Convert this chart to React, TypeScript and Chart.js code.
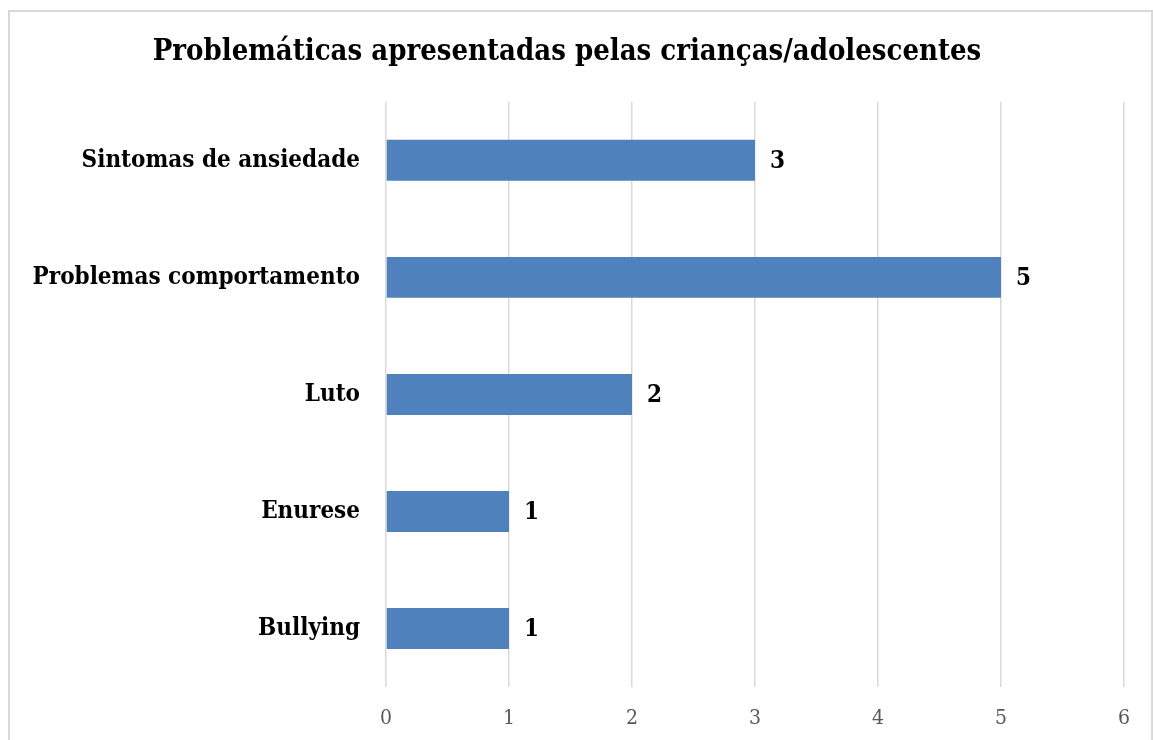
import React, { useEffect, useRef } from "react";
import { Chart, registerables } from "chart.js";

Chart.register(...registerables);

const titleText = "Problemáticas apresentadas pelas crianças/adolescentes";
const categories = [
  "Sintomas de ansiedade",
  "Problemas comportamento",
  "Luto",
  "Enurese",
  "Bullying",
];
const values = [3, 5, 2, 1, 1];
const xMin = 0;
const xMax = 6;

const FONT = "'DejaVu Serif Condensed', 'Liberation Serif', serif";

const valueLabels = {
  id: "valueLabels",
  afterDatasetsDraw(chart: any) {
    const ctx = chart.ctx;
    const meta = chart.getDatasetMeta(0);
    ctx.save();
    ctx.font = `bold 24px ${FONT}`;
    ctx.fillStyle = "#000000";
    ctx.textAlign = "left";
    ctx.textBaseline = "middle";
    meta.data.forEach((bar: any, i: number) => {
      ctx.fillText(String(values[i]), bar.x + 15, bar.y + 1);
    });
    ctx.restore();
  },
};

export default function App() {
  const ref = useRef<HTMLCanvasElement | null>(null);
  useEffect(() => {
    if (!ref.current) return;
    const chart = new Chart(ref.current, {
      type: "bar",
      data: {
        labels: categories,
        datasets: [
          {
            data: values,
            backgroundColor: "#4f81bd",
            borderWidth: 0,
            categoryPercentage: 1,
            barPercentage: 0.35,
          },
        ],
      },
      options: {
        indexAxis: "y",
        animation: false,
        responsive: false,
        maintainAspectRatio: false,
        layout: { padding: { left: 0, right: 27, top: 0, bottom: 0 } },
        plugins: {
          legend: { display: false },
          tooltip: { enabled: false },
          title: {
            display: true,
            text: titleText,
            color: "#000000",
            font: { family: FONT, size: 29, weight: "bold", lineHeight: 1.2 },
            padding: { top: 23, bottom: 32 },
          },
        },
        scales: {
          x: {
            min: xMin,
            max: xMax,
            ticks: {
              stepSize: 1,
              color: "#595959",
              font: { family: FONT, size: 21 },
              padding: 19,
            },
            grid: { color: "#d9d9d9", lineWidth: 1.5, drawTicks: false },
            border: { display: false },
            afterFit(scale: any) {
              scale.height = 53;
            },
          },
          y: {
            ticks: {
              color: "#000000",
              font: { family: FONT, size: 24, weight: "bold" },
              padding: 26,
            },
            grid: { display: false, drawTicks: false },
            border: { display: false },
            afterFit(scale: any) {
              scale.width = 376;
            },
          },
        },
      },
      plugins: [valueLabels],
    });
    return () => chart.destroy();
  }, []);

  return (
    <div
      style={{
        position: "absolute",
        left: 8,
        top: 10,
        width: 1145,
        height: 740,
        boxSizing: "border-box",
        border: "2px solid #d9d9d9",
        background: "#ffffff",
      }}
    >
      <canvas ref={ref} width={1141} height={728} style={{ display: "block" }} />
    </div>
  );
}
